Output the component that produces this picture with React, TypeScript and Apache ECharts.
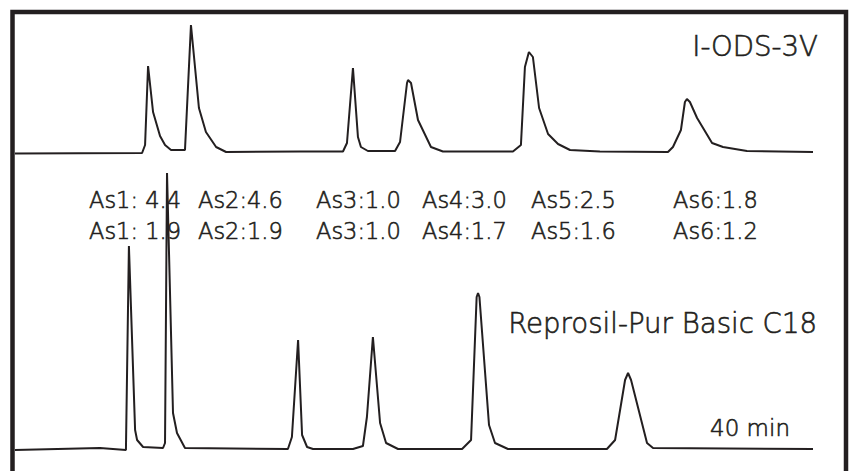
import React, { useEffect, useRef } from "react";
import * as echarts from "echarts";

// time (min) for I-ODS-3V trace
const topTimes = [0, 6.37, 6.52, 6.67, 6.92, 7.27, 7.52, 7.82, 8.52, 8.82, 9.22, 9.57, 10.08, 10.58, 14.29, 16.44, 16.64, 16.94, 17.19, 17.34, 17.69, 19.05, 19.3, 19.65, 19.7, 19.85, 20.2, 20.85, 21.45, 24.96, 25.36, 25.56, 25.76, 25.96, 26.27, 26.72, 27.22, 27.82, 29.32, 32.73, 32.98, 33.38, 33.58, 33.68, 33.83, 34.19, 34.94, 35.49, 36.69, 40];
const topSignal = [-0.5, 0, 8, 87, 41, 17, 8, 3, 3, 128, 45, 21, 6, 1, 1.5, 1.5, 10, 85, 16, 6, 2, 2, 11, 70, 73, 70, 33, 6, 1.5, 1.5, 8, 86, 101, 96, 45, 19, 9, 3, 1.5, 1, 6, 23, 51, 54, 51, 35, 10, 6, 2, 1];

// time (min) for Reprosil-Pur Basic C18 trace
const bottomTimes = [0, 4.26, 5.56, 5.71, 6.02, 6.12, 6.42, 7.42, 7.52, 7.62, 7.92, 8.12, 8.52, 13.68, 13.88, 14.19, 14.39, 14.64, 14.94, 16.94, 17.44, 17.64, 17.94, 18.3, 18.6, 19.2, 22.41, 22.86, 23.14, 23.21, 23.28, 23.76, 24.06, 24.71, 29.67, 30.08, 30.58, 30.73, 30.88, 31.68, 31.98, 40];
const bottomSignal = [-1, 1, -1, 203, 19, 9, 2, 1, 6, 276, 36, 16, 1, 0, 12, 109, 14, 2, 0, 0, 3, 32, 112, 26, 6, 0, 0, 9, 152, 156, 152, 24, 6, 0, 0, 9, 69, 76, 69, 6, 1, 0];

const columnNames = ["I-ODS-3V", "Reprosil-Pur Basic C18"];
const asTop = ["As1: 4.4", "As2:4.6", "As3:1.0", "As4:3.0", "As5:2.5", "As6:1.8"];
const asBottom = ["As1: 1.9", "As2:1.9", "As3:1.0", "As4:1.7", "As5:1.6", "As6:1.2"];
const timeLabel = "40 min";

const INK = "#231f20";
const FONT = '"DejaVu Sans"';

export default function App() {
  const ref = useRef<HTMLDivElement>(null);
  useEffect(() => {
    if (!ref.current) return;
    const chart = echarts.init(ref.current, undefined, { renderer: "svg" });
    const asX = [89, 198, 316, 422, 531, 673];
    const texts: any[] = [];
    const txt = (x: number, y: number, text: string, size: number, align: string) => ({
      type: "text", x, y, z: 1,
      style: {
        text, fill: INK, stroke: INK, lineWidth: 0.6,
        font: `200 ${size}px ${FONT}`, verticalAlign: "middle", align,
      },
    });
    asTop.forEach((t, i) => texts.push(txt(asX[i], 200, t, 22.5, "left")));
    asBottom.forEach((t, i) => texts.push(txt(asX[i], 231, t, 22.5, "left")));
    texts.push(txt(818, 46, columnNames[0], 27.6, "right"));
    texts.push(txt(817, 323, columnNames[1], 27.6, "right"));
    texts.push(txt(790, 428, timeLabel, 23, "right"));
    texts.push({
      type: "rect", z: 5,
      shape: { x: 12.5, y: 12, width: 833.5, height: 500 },
      style: { fill: "none", stroke: INK, lineWidth: 4.5 },
    });

    const topData = topTimes.map((t, i) => [t, topSignal[i]]);
    const bottomData = bottomTimes.map((t, i) => [t, bottomSignal[i]]);

    chart.setOption({
      animation: false,
      backgroundColor: "#ffffff",
      grid: [
        { left: 15, width: 798, top: 20, height: 138 },
        { left: 15, width: 798, top: 169, height: 285 },
      ],
      xAxis: [
        { type: "value", gridIndex: 0, min: 0, max: 40, show: false },
        { type: "value", gridIndex: 1, min: 0, max: 40, show: false },
      ],
      yAxis: [
        { type: "value", gridIndex: 0, min: -5, max: 133, show: false },
        { type: "value", gridIndex: 1, min: -5, max: 280, show: false },
      ],
      series: [
        {
          type: "line", xAxisIndex: 0, yAxisIndex: 0, data: topData, showSymbol: false, z: 2,
          lineStyle: { color: INK, width: 2 }, silent: true,
        },
        {
          type: "line", xAxisIndex: 1, yAxisIndex: 1, data: bottomData, showSymbol: false, z: 2,
          lineStyle: { color: INK, width: 2 }, silent: true,
        },
      ],
      graphic: texts,
    });
    return () => chart.dispose();
  }, []);
  return (
    <div
      ref={ref}
      style={{ position: "fixed", left: 0, top: 0, width: 851, height: 471, background: "#fff" }}
    />
  );
}
